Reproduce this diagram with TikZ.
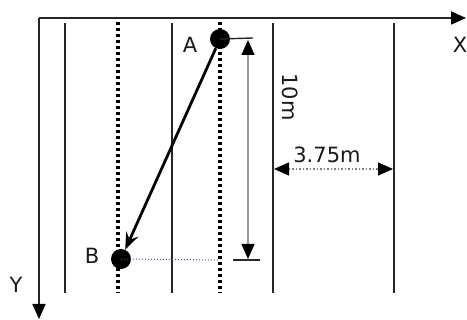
\documentclass[tikz,border=0pt]{standalone}
\usepackage{fontspec}
\setmainfont{DejaVu Sans}
\usetikzlibrary{arrows.meta}
\begin{document}
\begin{tikzpicture}[x=1pt,y=-1pt,
  axis/.style={line width=1.8pt, black!85},
  lane/.style={line width=1.9pt, black!85},
  laned/.style={line width=3.2pt, dash pattern=on 3pt off 3pt, black},
  lbl/.style={font=\fontsize{21}{24}\selectfont, text=black!90, inner sep=0pt},
  dot/.style={circle, fill=black, inner sep=0pt, minimum size=20pt},
  tri/.tip={Triangle[length=15pt,width=13pt,color=black]},
]
\useasboundingbox (0,0) rectangle (467,320);

% axes
\coordinate (O) at (39,18);
\coordinate (Xend) at (466,18);
\coordinate (Yend) at (39,319);
\draw[axis,-tri] (O) -- (Xend);
\draw[axis,-tri] (O) -- (Yend);

% lane lines
\foreach \x/\n in {65/l1,172/l2,273/l3,394/l4}{
  \coordinate (\n t) at (\x,23);
  \coordinate (\n b) at (\x,293);
  \draw[lane] (\n t) -- (\n b);
}
\foreach \x/\n in {118/d1,220/d2}{
  \coordinate (\n t) at (\x,22);
  \coordinate (\n b) at (\x,293);
  \draw[laned] (\n t) -- (\n b);
}

% points
\node[dot] (A) at (220,39) {};
\node[dot] (B) at (121,259) {};
\node[lbl] (lA) at (190,45) {A};
\node[lbl] (lB) at (92,256) {B};
\node[lbl] (lX) at (460,45) {X};
\node[lbl] (lY) at (16,285) {Y};

% movement arrow
\draw[line width=2.8pt, -{Stealth[length=17pt,width=13pt,inset=6pt]}] (A) -- (B);

% extension lines
\coordinate (Ae) at (253,38);
\coordinate (Bs) at (233,260);
\coordinate (Be) at (260,260);
\draw[line width=1.4pt, black!85] (A.center) -- (Ae);
\draw[line width=1.4pt, black!85] (Bs) -- (Be);
\coordinate (Bd) at (220,260);
\draw[line width=1pt, blue!40!gray, dotted] (B.center) -- (Bd);

% vertical dimension
\coordinate (vt) at (248,40);
\coordinate (vb) at (248,259);
\draw[line width=1.2pt, gray!80, tri-tri] (vt) -- (vb);
\node[lbl, rotate=-90] (l10) at (290,97) {10m};

% horizontal dimension
\coordinate (hl) at (274,169);
\coordinate (hr) at (393,169);
\draw[line width=1.5pt, gray, dotted, tri-tri] (hl) -- (hr);
\node[lbl] (l375) at (327,155) {3.75m};
\end{tikzpicture}
\end{document}
